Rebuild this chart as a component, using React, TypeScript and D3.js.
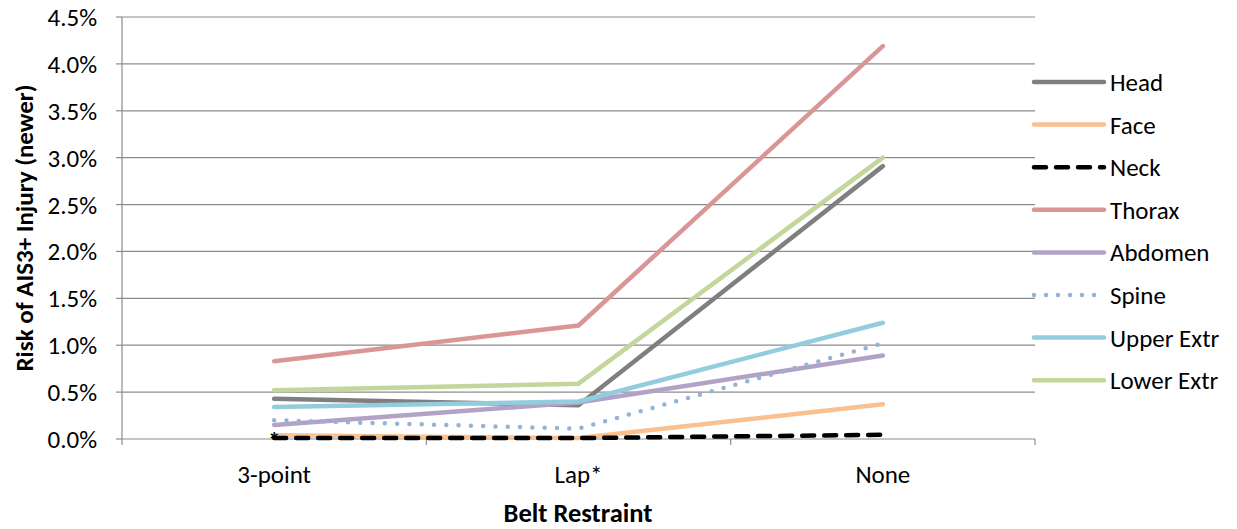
import React from "react";
import * as d3 from "d3";

const categories = ["3-point", "Lap*", "None"];
const yTicks = [0, 0.5, 1.0, 1.5, 2.0, 2.5, 3.0, 3.5, 4.0, 4.5];

const headValues = [0.43, 0.36, 2.91];
const faceValues = [0.04, 0.01, 0.37];
const neckValues = [0.01, 0.01, 0.045];
const thoraxValues = [0.83, 1.21, 4.19];
const abdomenValues = [0.15, 0.39, 0.89];
const spineValues = [0.2, 0.11, 1.02];
const upperValues = [0.34, 0.40, 1.24];
const lowerValues = [0.52, 0.59, 3.0];

const seriesNames = ["Head", "Face", "Neck", "Thorax", "Abdomen", "Spine", "Upper Extr", "Lower Extr"];
const seriesValues = [headValues, faceValues, neckValues, thoraxValues, abdomenValues, spineValues, upperValues, lowerValues];
const seriesColors = ["#7f7f7f", "#fac090", "#000000", "#d99694", "#b3a2c7", "#95b3d7", "#93cddd", "#c3d69b"];
const seriesDash = ["", "", "12 10", "", "", "0 12.3", "", ""];

const FONT = "Calibri, Carlito, Lato, 'Open Sans', sans-serif";
const FS = 25;

export default function App() {
  const W = 1237, H = 529;
  const left = 122, right = 1035, top = 17, bottom = 439;
  const x = d3.scaleBand<string>().domain(categories).range([left, right]);
  const y = d3.scaleLinear().domain([0, 4.5]).range([bottom, top]);
  const cx = (c: string) => (x(c) as number) + x.bandwidth() / 2;
  const line = d3.line<number>().x((_, i) => cx(categories[i])).y((v) => y(v));
  const drawOrder = [0, 1, 3, 4, 5, 6, 7, 2];
  const boundaries = [left, ...categories.map((c) => (x(c) as number) + x.bandwidth())];

  return (
    <svg width={W} height={H} style={{ position: "absolute", left: 0, top: 0 }} fontFamily={FONT}>
      <rect width={W} height={H} fill="#fff" />
      {yTicks.map((t) => (
        <g key={t}>
          {t > 0 && <line x1={left} x2={right} y1={y(t)} y2={y(t)} stroke="#8c8c8c" strokeWidth={1.2} />}
          <line x1={left - 6} x2={left} y1={y(t)} y2={y(t)} stroke="#8c8c8c" strokeWidth={1.2} />
          <text x={97} y={y(t)} dy="0.36em" textAnchor="end" fontSize={FS} fill="#000">
            {t.toFixed(1)}%
          </text>
        </g>
      ))}
      <line x1={left} x2={left} y1={top} y2={bottom} stroke="#8c8c8c" strokeWidth={1.2} />
      <line x1={left} x2={right} y1={bottom} y2={bottom} stroke="#8c8c8c" strokeWidth={1.2} />
      {boundaries.map((b, i) => (
        <line key={i} x1={b} x2={b} y1={bottom} y2={bottom + 6} stroke="#8c8c8c" strokeWidth={1.2} />
      ))}
      {categories.map((c) => (
        <text key={c} x={cx(c)} y={483} textAnchor="middle" fontSize={FS} fill="#000">
          {c}
        </text>
      ))}
      {drawOrder.map((i) => (
        <path
          key={seriesNames[i]}
          d={line(seriesValues[i]) as string}
          fill="none"
          stroke={seriesColors[i]}
          strokeWidth={4.5}
          strokeDasharray={seriesDash[i] || undefined}
          strokeLinecap="round"
          strokeLinejoin="round"
        />
      ))}
      <text x={cx(categories[0])} y={y(neckValues[0]) + 11} textAnchor="middle" fontSize={24} fontWeight="bold" fill="#000">
        *
      </text>
      {seriesNames.map((n, i) => {
        const ly = 82 + i * 42.6;
        return (
          <g key={n}>
            <line
              x1={1034}
              x2={1104}
              y1={ly}
              y2={ly}
              stroke={seriesColors[i]}
              strokeWidth={4.5}
              strokeDasharray={i === 2 ? "12 10" : i === 5 ? "0 12" : undefined}
              strokeLinecap="round"
            />
            <text x={1110} y={ly} dy="0.36em" fontSize={FS} fill="#000">
              {n}
            </text>
          </g>
        );
      })}
      <text
        transform={`translate(33,${(top + bottom) / 2}) rotate(-90)`}
        textAnchor="middle"
        fontSize={FS}
        fontWeight="bold"
        fill="#000"
      >
        Risk of AIS3+ Injury (newer)
      </text>
      <text x={578} y={522} textAnchor="middle" fontSize={26.5} fontWeight="bold" fill="#000">
        Belt Restraint
      </text>
    </svg>
  );
}
